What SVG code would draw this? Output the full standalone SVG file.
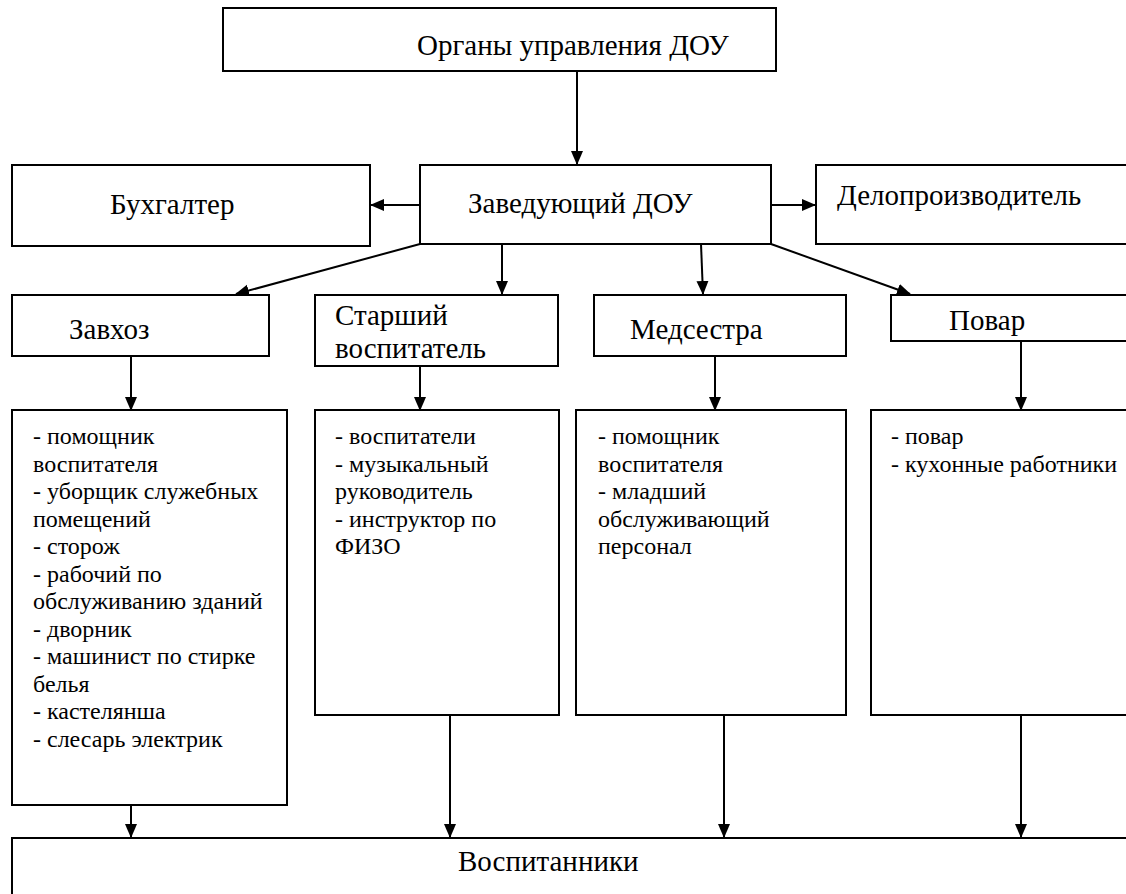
<svg xmlns="http://www.w3.org/2000/svg" width="1126" height="894" viewBox="0 0 1126 894">
<style>
.box{fill:#fff;stroke:#000;stroke-width:2}
.t{font-family:'Liberation Serif','Times New Roman',Tinos,Times,'Noto Serif','DejaVu Serif',FreeSerif,serif;font-size:29px;fill:#000}
.s{font-family:'Liberation Serif','Times New Roman',Tinos,Times,'Noto Serif','DejaVu Serif',FreeSerif,serif;font-size:24px;fill:#000}
.c{stroke:#000;stroke-width:2;fill:none;marker-end:url(#ah)}
</style>
<defs>
<marker id="ah" markerWidth="14" markerHeight="14" refX="13" refY="6" orient="auto" markerUnits="userSpaceOnUse" viewBox="0 0 14 12">
<path d="M0,0 L14,6 L0,12 Z" fill="#000"/>
</marker>
</defs>
<rect width="1126" height="894" fill="#fff"/>
<g id="connectors">
<line class="c" x1="577" y1="71" x2="577" y2="164"/>
<line class="c" x1="420" y1="205" x2="371" y2="205"/>
<line class="c" x1="771" y1="205" x2="815" y2="205"/>
<line class="c" x1="420" y1="244" x2="236" y2="294"/>
<line class="c" x1="502" y1="244" x2="502" y2="294"/>
<line class="c" x1="701" y1="244" x2="703" y2="294"/>
<line class="c" x1="771" y1="244" x2="910" y2="294"/>
<line class="c" x1="131" y1="356" x2="131" y2="410"/>
<line class="c" x1="420" y1="366" x2="420" y2="410"/>
<line class="c" x1="715" y1="356" x2="715" y2="410"/>
<line class="c" x1="1021" y1="341" x2="1021" y2="410"/>
<line class="c" x1="131" y1="805" x2="131" y2="837"/>
<line class="c" x1="450" y1="715" x2="450" y2="837"/>
<line class="c" x1="724" y1="715" x2="724" y2="837"/>
<line class="c" x1="1021" y1="715" x2="1021" y2="837"/>
</g>
<g id="organy">
<rect class="box" x="223" y="8" width="553" height="63"/>
<text class="t" x="417" y="55">Органы управления ДОУ</text>
</g>
<g id="buhgalter">
<rect class="box" x="12" y="165" width="358" height="81"/>
<text class="t" x="110" y="214">Бухгалтер</text>
</g>
<g id="zaveduyushchiy">
<rect class="box" x="420" y="165" width="351" height="79"/>
<text class="t" x="468" y="213">Заведующий ДОУ</text>
</g>
<g id="deloproizvoditel">
<rect class="box" x="816" y="165" width="320" height="79"/>
<text class="t" x="837" y="205">Делопроизводитель</text>
</g>
<g id="zavhoz">
<rect class="box" x="12" y="295" width="257" height="61"/>
<text class="t" x="69" y="339">Завхоз</text>
</g>
<g id="starshiy">
<rect class="box" x="315" y="295" width="243" height="71"/>
<text class="t" x="335" y="325">Старший</text>
<text class="t" x="335" y="358">воспитатель</text>
</g>
<g id="medsestra">
<rect class="box" x="594" y="295" width="252" height="61"/>
<text class="t" x="630" y="339">Медсестра</text>
</g>
<g id="povar">
<rect class="box" x="891" y="295" width="246" height="46"/>
<text class="t" x="949" y="330">Повар</text>
</g>
<g id="zavhoz-staff">
<rect class="box" x="12" y="410" width="275" height="395"/>
<text class="s">
<tspan x="33" y="444">- помощник</tspan>
<tspan x="33" y="471.5">воспитателя</tspan>
<tspan x="33" y="499">- уборщик служебных</tspan>
<tspan x="33" y="526.5">помещений</tspan>
<tspan x="33" y="554">- сторож</tspan>
<tspan x="33" y="581.5">- рабочий по</tspan>
<tspan x="33" y="609">обслуживанию зданий</tspan>
<tspan x="33" y="636.5">- дворник</tspan>
<tspan x="33" y="664">- машинист по стирке</tspan>
<tspan x="33" y="691.5">белья</tspan>
<tspan x="33" y="719">- кастелянша</tspan>
<tspan x="33" y="746.5">- слесарь электрик</tspan>
</text>
</g>
<g id="starshiy-staff">
<rect class="box" x="315" y="410" width="244" height="305"/>
<text class="s">
<tspan x="335" y="444">- воспитатели</tspan>
<tspan x="335" y="471.5">- музыкальный</tspan>
<tspan x="335" y="499">руководитель</tspan>
<tspan x="335" y="526.5">- инструктор по</tspan>
<tspan x="335" y="554">ФИЗО</tspan>
</text>
</g>
<g id="medsestra-staff">
<rect class="box" x="576" y="410" width="270" height="305"/>
<text class="s">
<tspan x="598" y="444">- помощник</tspan>
<tspan x="598" y="471.5">воспитателя</tspan>
<tspan x="598" y="499">- младший</tspan>
<tspan x="598" y="526.5">обслуживающий</tspan>
<tspan x="598" y="554">персонал</tspan>
</text>
</g>
<g id="povar-staff">
<rect class="box" x="871" y="410" width="266" height="305"/>
<text class="s">
<tspan x="891" y="444">- повар</tspan>
<tspan x="891" y="471.5">- кухонные работники</tspan>
</text>
</g>
<g id="vospitanniki">
<rect class="box" x="12" y="838" width="1125" height="70"/>
<text class="t" x="458" y="871">Воспитанники</text>
</g>
</svg>
